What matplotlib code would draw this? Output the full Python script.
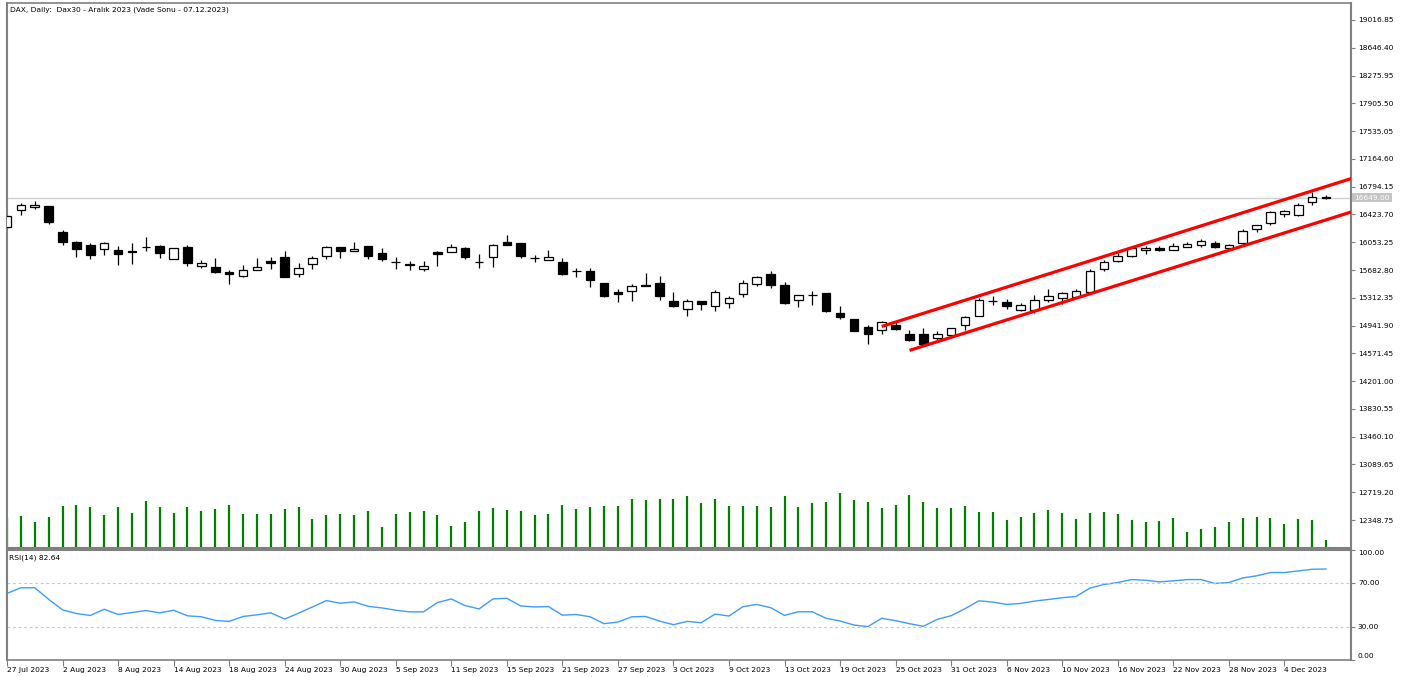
import matplotlib
matplotlib.use("Agg")
import matplotlib.pyplot as plt
import matplotlib.transforms as mtransforms
import numpy as np

# ---- data (DAX Dec-2023 future, daily bars 27 Jul .. 7 Dec 2023)
opens = [16252, 16484, 16528, 16537, 16186, 16062, 16018, 15965, 15955, 15932,
         15988, 16009, 15836, 15995, 15738, 15725, 15659, 15609, 15685, 15809,
         15862, 15623, 15765, 15872, 15991, 15942, 16005, 15916, 15794, 15758,
         15693, 15925, 15929, 15982, 15794, 15853, 16053, 16045, 15842, 15818,
         15792, 15665, 15672, 15507, 15392, 15400, 15486, 15507, 15273, 15157,
         15273, 15206, 15246, 15366, 15499, 15623, 15486, 15286, 15355, 15374,
         15104, 15024, 14917, 14877, 14944, 14833, 14833, 14780, 14811, 14953,
         15070, 15269, 15250, 15153, 15153, 15286, 15313, 15321, 15396, 15699,
         15809, 15876, 15951, 15978, 15951, 15995, 16022, 16039, 15978, 16045,
         16231, 16306, 16431, 16421, 16585, 16652]
highs = [16421, 16572, 16598, 16541, 16218, 16075, 16049, 16055, 16009, 16049,
         16119, 16015, 15976, 16018, 15818, 15845, 15685, 15752, 15845, 15862,
         15933, 15773, 15872, 15998, 15995, 16062, 16008, 15973, 15853, 15809,
         15809, 15933, 16031, 15985, 15898, 16031, 16155, 16049, 15889, 15955,
         15845, 15712, 15712, 15510, 15432, 15499, 15645, 15600, 15383, 15299,
         15276, 15410, 15330, 15552, 15609, 15676, 15520, 15356, 15406, 15376,
         15197, 15027, 14944, 15001, 14988, 14877, 14908, 14868, 14910, 15068,
         15303, 15334, 15296, 15246, 15353, 15432, 15396, 15432, 15693, 15818,
         15906, 16009, 16005, 16005, 16045, 16053, 16098, 16075, 16031, 16231,
         16288, 16465, 16484, 16572, 16718, 16680]
lows = [16235, 16417, 16497, 16298, 16022, 15862, 15832, 15880, 15752, 15765,
        15933, 15845, 15834, 15742, 15712, 15640, 15499, 15587, 15683, 15699,
        15590, 15587, 15699, 15826, 15845, 15933, 15832, 15809, 15699, 15685,
        15667, 15733, 15929, 15832, 15712, 15729, 16020, 15840, 15786, 15816,
        15621, 15587, 15454, 15321, 15254, 15267, 15463, 15286, 15184, 15064,
        15153, 15140, 15180, 15321, 15476, 15446, 15233, 15188, 15220, 15121,
        15033, 14866, 14700, 14833, 14877, 14735, 14691, 14744, 14809, 14877,
        15064, 15210, 15157, 15130, 15108, 15254, 15233, 15307, 15387, 15676,
        15796, 15853, 15898, 15933, 15949, 15986, 15995, 15978, 15965, 16031,
        16186, 16284, 16395, 16408, 16550, 16625]
closes = [16408, 16554, 16554, 16319, 16053, 15965, 15889, 16049, 15898, 15929,
          15986, 15912, 15973, 15782, 15778, 15653, 15623, 15689, 15725, 15782,
          15592, 15712, 15845, 15995, 15933, 15965, 15872, 15832, 15792, 15756,
          15733, 15898, 15991, 15853, 15792, 16022, 16022, 15872, 15840, 15858,
          15623, 15663, 15556, 15330, 15366, 15463, 15467, 15330, 15206, 15263,
          15227, 15396, 15307, 15512, 15587, 15480, 15246, 15353, 15353, 15130,
          15054, 14868, 14828, 14984, 14900, 14754, 14700, 14833, 14908, 15054,
          15287, 15267, 15197, 15214, 15286, 15334, 15379, 15400, 15672, 15796,
          15866, 15978, 15978, 15951, 16005, 16031, 16066, 15995, 16013, 16199,
          16284, 16452, 16475, 16550, 16661, 16649]
volumes = [30, 32, 26, 31, 42, 43, 41, 33, 41, 35,
           47, 41, 35, 41, 37, 39, 43, 34, 34, 34,
           39, 41, 29, 33, 34, 33, 37, 21, 34, 36,
           37, 33, 22, 26, 37, 40, 38, 37, 33, 34,
           43, 39, 41, 42, 42, 49, 48, 49, 49, 52,
           45, 49, 42, 42, 42, 41, 52, 41, 45, 46,
           55, 48, 46, 40, 43, 53, 46, 40, 40, 42,
           36, 36, 28, 31, 35, 38, 35, 29, 35, 36,
           34, 28, 26, 27, 30, 16, 19, 21, 26, 30,
           31, 30, 24, 29, 28, 8]
rsi = [60.4, 65.5, 65.5, 55.0, 45.3, 42.0, 40.2, 45.9, 41.1, 42.9,
       44.7, 42.6, 45.0, 39.9, 39.0, 35.7, 34.8, 39.3, 40.8, 42.6,
       36.9, 42.3, 48.0, 53.8, 51.4, 52.6, 48.6, 47.1, 45.0, 43.5,
       43.5, 52.0, 55.3, 49.2, 46.2, 55.3, 55.9, 48.9, 48.0, 48.3,
       40.5, 41.1, 39.0, 32.7, 34.2, 39.0, 39.3, 35.1, 31.8, 34.8,
       33.6, 41.5, 39.7, 48.2, 50.3, 47.3, 40.3, 43.6, 43.6, 37.6,
       35.2, 31.5, 30.0, 37.6, 35.5, 32.7, 30.3, 36.7, 40.0, 46.4,
       53.6, 52.4, 50.3, 51.2, 53.3, 54.8, 56.4, 57.6, 65.2, 68.5,
       70.3, 73.0, 72.4, 70.9, 71.8, 73.0, 73.0, 69.4, 70.3, 74.5,
       76.4, 79.4, 79.4, 80.9, 82.4, 82.64]

date_labels = ["27 Jul 2023", "2 Aug 2023", "8 Aug 2023", "14 Aug 2023", "18 Aug 2023",
               "24 Aug 2023", "30 Aug 2023", "5 Sep 2023", "11 Sep 2023", "15 Sep 2023",
               "21 Sep 2023", "27 Sep 2023", "3 Oct 2023", "9 Oct 2023", "13 Oct 2023",
               "19 Oct 2023", "25 Oct 2023", "31 Oct 2023", "6 Nov 2023", "10 Nov 2023",
               "16 Nov 2023", "22 Nov 2023", "28 Nov 2023", "4 Dec 2023"]
price_ticks = [12348.75, 12719.20, 13089.65, 13460.10, 13830.55, 14201.00, 14571.45,
               14941.90, 15312.35, 15682.80, 16053.25, 16423.70, 16794.15, 17164.60,
               17535.05, 17905.50, 18275.95, 18646.40, 19016.85]
last_price = 16649.00

# channel trendlines: (bar index, price) anchors
channel_upper = [(63, 14930), (95, 16796)]
channel_lower = [(65, 14611), (95, 16351)]

W, H = 1402, 677
FS = 5.4
FRAME = "#808080"
plt.rcParams["font.family"] = "DejaVu Sans"


def frac(x0, y0, x1, y1):
    return [x0 / W, 1 - y1 / H, (x1 - x0) / W, (y1 - y0) / H]


def style_frame(a, sep_side):
    for name, s in a.spines.items():
        s.set_color(FRAME)
        s.set_linewidth(1.5 if name in ("left", "right", sep_side) else 1.2)


fig = plt.figure(figsize=(W / 100, H / 100), dpi=100)
ax = fig.add_axes(frac(7, 3, 1351, 548))
ax_rsi = fig.add_axes(frac(7, 550, 1351, 659.5), sharex=ax)

idx = np.arange(len(closes))
o = np.array(opens, float)
c = np.array(closes, float)

# volumes on their own scale behind the candles
ax_vol = ax.twinx()
ax_vol.vlines(idx, 0, volumes, color="#008000", linewidth=1.6)
ax_vol.set_ylim(0, 544)
ax_vol.set_yticks([])
for s in ax_vol.spines.values():
    s.set_visible(False)
ax.set_zorder(ax_vol.get_zorder() + 1)
ax.patch.set_visible(False)

# bid line
ax.axhline(last_price, color="#d0d0d0", linewidth=1.0, zorder=1)

# candles
ax.vlines(idx, lows, highs, color="black", linewidth=0.9, zorder=2)
body_low = np.minimum(o, c)
body_h = np.abs(c - o)
faces = np.where(c >= o, "white", "black")
ax.bar(idx, body_h, bottom=body_low, width=0.62, color=faces, edgecolor="black",
       linewidth=0.9, zorder=3)

# channel lines extended to the right edge
xmax = 96.8
for pts in (channel_upper, channel_lower):
    (x0, y0), (x1, y1) = pts
    slope = (y1 - y0) / (x1 - x0)
    ax.plot([x0, xmax + 2], [y0, y0 + slope * (xmax + 2 - x0)], color="#ff0000",
            linewidth=2.3, zorder=4, solid_capstyle="butt")

ax.set_xlim(0, xmax)
ax.set_ylim(11976, 19243)
ax.yaxis.tick_right()
ax.set_yticks(price_ticks)
ax.set_yticklabels([f"{v:.2f}" for v in price_ticks])
ax.tick_params(axis="y", length=3, width=0.8, pad=2, labelsize=FS, color=FRAME,
               labelcolor="black")
ax.tick_params(axis="x", bottom=False, labelbottom=False)
style_frame(ax, "bottom")

# last price box on the axis
trans = mtransforms.blended_transform_factory(ax.transAxes, ax.transData)
ax.text(1.0025, last_price, f"{last_price:.2f}", transform=trans, fontsize=FS,
        color="white", va="center", ha="left", zorder=6,
        bbox=dict(boxstyle="square,pad=0.25", facecolor="#c4c4c4", edgecolor="none"))

# RSI panel
ax_rsi.plot(idx, rsi, color="#3d9cff", linewidth=1.0)
for lvl in (70, 30):
    ax_rsi.axhline(lvl, color="#c8c8c8", linewidth=0.8, linestyle=(0, (2.5, 2.5)))
ax_rsi.set_ylim(0, 100)
ax_rsi.yaxis.tick_right()
ax_rsi.set_yticks([0, 30, 70, 100])
ax_rsi.set_yticklabels(["0.00", "30.00", "70.00", "100.00"])
ax_rsi.tick_params(axis="y", length=3, width=0.8, pad=2, labelsize=FS, color=FRAME)
labs = ax_rsi.get_yticklabels()
labs[0].set_va("bottom")
labs[-1].set_va("top")
ax_rsi.set_xticks(np.arange(0, len(closes), 4))
ax_rsi.set_xticklabels(date_labels)
ax_rsi.tick_params(axis="x", length=4, width=0.8, pad=1.5, labelsize=FS, color=FRAME)
for lab in ax_rsi.get_xticklabels():
    lab.set_ha("left")
style_frame(ax_rsi, "top")

fig.text(10 / W, 1 - 10 / H, "DAX, Daily:  Dax30 - Aralık 2023 (Vade Sonu - 07.12.2023)",
         fontsize=FS, va="center", ha="left")
fig.text(9 / W, 1 - 558 / H, "RSI(14) 82.64", fontsize=FS, va="center", ha="left")

fig.savefig("out.png", dpi=100, facecolor="white")
